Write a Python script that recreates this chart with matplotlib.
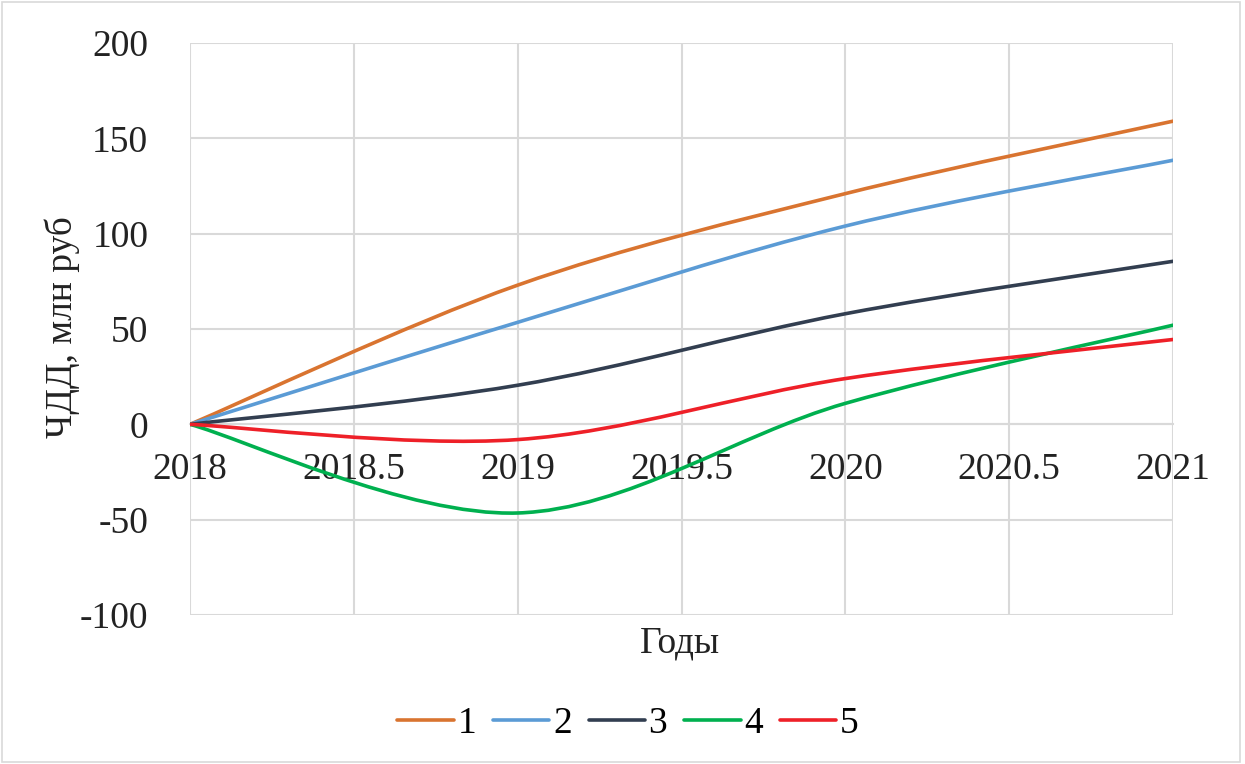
import numpy as np
import matplotlib
matplotlib.use('Agg')
from matplotlib import pyplot as plt
from matplotlib.path import Path
from matplotlib.patches import PathPatch, Rectangle
from matplotlib.lines import Line2D

plt.rcParams['font.family'] = ['Liberation Serif', 'DejaVu Serif']
plt.rcParams['axes.unicode_minus'] = False

# данные
years = [2018, 2019, 2020, 2021]
s1 = [0, 73, 121, 159]
s2 = [0, 53.5, 104, 138.5]
s3 = [0, 20.5, 58, 85.5]
s4 = [0, -46.5, 11, 52]
s5 = [0, -8, 24, 44.5]
series = [s1, s2, s3, s4, s5]
names = ['1', '2', '3', '4', '5']
colors = ['#D97430', '#5B9BD5', '#323E50', '#00B04F', '#EE2028']


# сглаженная линия как в Excel (кривые Безье)
def smooth_path(x, y):
    pts = np.column_stack([x, y]).astype(float)
    n = len(pts)
    verts = [pts[0]]
    codes = [Path.MOVETO]
    for i in range(n - 1):
        p0 = pts[max(i - 1, 0)]
        p1 = pts[i]
        p2 = pts[i + 1]
        p3 = pts[min(i + 2, n - 1)]
        c1 = p1 + (p2 - p0) / 6
        c2 = p2 - (p3 - p1) / 6
        verts += [c1, c2, p2]
        codes += [Path.CURVE4] * 3
    return Path(verts, codes)


fig = plt.figure(figsize=(12.45, 7.64), dpi=100)
ax = fig.add_axes([190 / 1245, 149 / 764, 983 / 1245, 572 / 764])

grid_c = '#D9D9D9'
for s, c in zip(series, colors):
    ax.add_patch(PathPatch(smooth_path(years, s), fill=False, edgecolor=c,
                           lw=2.6, capstyle='round', zorder=3))

ax.set_xlim(2018, 2021)
ax.set_ylim(-100, 200)
ax.set_xticks([2018, 2018.5, 2019, 2019.5, 2020, 2020.5, 2021])
ax.set_xticklabels(['2018', '2018.5', '2019', '2019.5', '2020', '2020.5', '2021'])
ax.set_yticks([-100, -50, 0, 50, 100, 150, 200])
ax.grid(True, color=grid_c, lw=1.5, zorder=0)
for sp in ['top', 'right', 'left']:
    ax.spines[sp].set_visible(False)
ax.spines['bottom'].set_position(('data', 0))
ax.spines['bottom'].set_color(grid_c)
ax.spines['bottom'].set_linewidth(1.5)
ax.tick_params(axis='x', length=0, pad=20, labelsize=27, colors='#222222')
ax.tick_params(axis='y', length=0, pad=30, labelsize=27, colors='#222222')
ax.set_axisbelow(True)

fig.text(680 / 1245, 1 - 643 / 764, 'Годы', ha='center', va='center',
         fontsize=27, color='#222222')
fig.text(62 / 1245, 1 - 327 / 764, 'ЧДД, млн руб', ha='center', va='center',
         rotation=90, fontsize=27, color='#222222')

handles = [Line2D([0], [0], color=c, lw=2.6, solid_capstyle='round') for c in colors]
fig.legend(handles, names, loc='center', bbox_to_anchor=(628 / 1245, 1 - 724 / 764),
           ncol=5, frameon=False, fontsize=27, handlelength=1.5,
           handletextpad=0.1, columnspacing=0.45)

fig.patches.append(Rectangle((0.002, 0.003), 0.994, 0.994, transform=fig.transFigure,
                             fill=False, edgecolor='#D9D9D9', lw=1.2))

plt.savefig('out.png', dpi=100)
